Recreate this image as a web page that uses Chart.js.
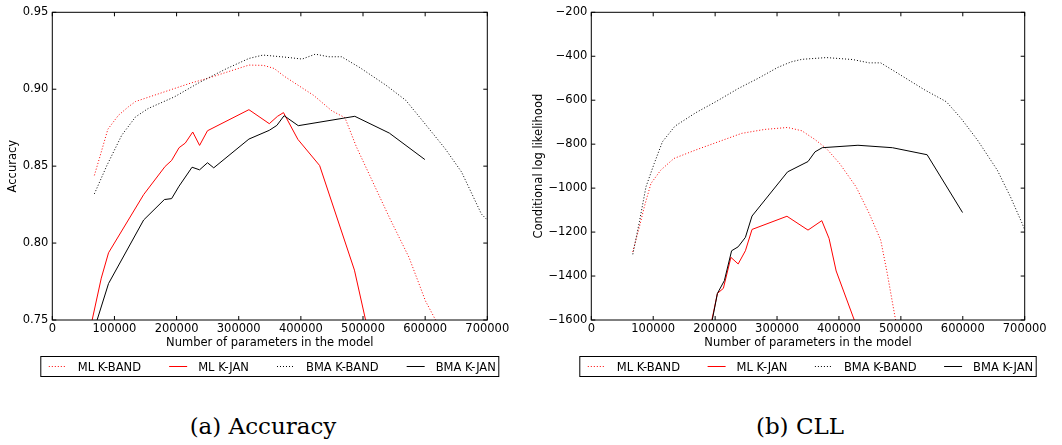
<!DOCTYPE html>
<html>
<head>
<meta charset="utf-8">
<script src="https://cdn.jsdelivr.net/npm/chart.js@4.4.0/dist/chart.umd.min.js"></script>
<style>
    html, body { margin: 0; padding: 0; background: #fff; }
    body { width: 1062px; height: 445px; position: relative; overflow: hidden; }
    .panel { position: absolute; top: 0; }
    .panel canvas { display: block; }
    .caption {
        position: absolute; top: 415px;
        font-family: "DejaVu Serif", serif; font-size: 23px; line-height: 23px;
        text-align: center; color: #000; white-space: nowrap;
    }
</style>
</head>
<body>
<div class="panel" style="left:0"><canvas id="accChart" width="530" height="385"></canvas></div>
<div class="panel" style="left:530px"><canvas id="cllChart" width="532" height="385"></canvas></div>
<div class="caption" style="left:0;width:526px">(a) Accuracy</div>
<div class="caption" style="left:538px;width:524px">(b) CLL</div>

<script>
// --- Datos ---
const seriesNames = ['ML K-BAND', 'ML K-JAN', 'BMA K-BAND', 'BMA K-JAN'];

const xTicks = [0, 100000, 200000, 300000, 400000, 500000, 600000, 700000];
const accTicks = [0.75, 0.80, 0.85, 0.90, 0.95];
const cllTicks = [-1600, -1400, -1200, -1000, -800, -600, -400, -200];

// (a) Accuracy
const accMlBandX = [67700, 77200, 89400, 106300, 122200, 133900, 185700, 222800, 249200, 316400, 340000, 357000, 373000, 420600, 449700, 470900, 489400, 542300, 574000, 600500, 622000];
const accMlBandY = [0.844, 0.857, 0.874, 0.883, 0.8885, 0.892, 0.899, 0.904, 0.907, 0.9157, 0.9155, 0.9135, 0.9085, 0.896, 0.886, 0.8815, 0.8625, 0.8167, 0.7907, 0.7624, 0.746];

const accMlJanX = [62500, 78800, 90500, 147000, 181500, 192000, 204000, 214000, 226000, 237000, 249700, 316400, 349200, 362400, 372000, 395200, 430200, 486200, 508000];
const accMlJanY = [0.747, 0.7772, 0.7937, 0.8315, 0.8498, 0.8537, 0.862, 0.865, 0.8722, 0.8635, 0.873, 0.8867, 0.8776, 0.8824, 0.8848, 0.8674, 0.8504, 0.7824, 0.743];

const accBmaBandX = [67700, 87800, 111600, 133900, 154000, 196300, 238600, 281000, 316400, 339000, 378300, 402100, 423300, 444400, 465600, 494700, 537000, 568800, 595200, 632300, 658700, 690500, 700000];
const accBmaBandY = [0.832, 0.8504, 0.870, 0.882, 0.8874, 0.895, 0.9048, 0.9135, 0.920, 0.9222, 0.9207, 0.9196, 0.9228, 0.9211, 0.9211, 0.9141, 0.9026, 0.8928, 0.8798, 0.8613, 0.8461, 0.8189, 0.815];

const accBmaJanX = [69000, 90500, 147000, 180400, 192000, 204000, 224900, 237000, 249700, 259800, 316400, 349200, 361400, 373000, 395800, 486800, 542300, 599500];
const accBmaJanY = [0.746, 0.7737, 0.815, 0.8283, 0.8289, 0.837, 0.8493, 0.8476, 0.8522, 0.8489, 0.8676, 0.8733, 0.8765, 0.8828, 0.8763, 0.8824, 0.8715, 0.8543];

// (b) CLL
const cllMlBandX = [67000, 77700, 85600, 96300, 112200, 133500, 168100, 205300, 242600, 279800, 317000, 340000, 361300, 379800, 401100, 427600, 448800, 467400, 478000, 493000];
const cllMlBandY = [-1290, -1176, -1085, -979, -918, -865, -827, -789, -751, -733, -724, -739, -779, -820, -888, -994, -1115, -1236, -1388, -1625];

const cllMlJanX = [192500, 203700, 213300, 225500, 237200, 248900, 259600, 316000, 350000, 372300, 384000, 395500, 428000];
const cllMlJanY = [-1630, -1479, -1456, -1315, -1345, -1285, -1188, -1128, -1191, -1148, -1229, -1377, -1625];

const cllBmaBandX = [67000, 77700, 88300, 101600, 114900, 135100, 168100, 205300, 237200, 269100, 301000, 322300, 340000, 379800, 422300, 448800, 467400, 491200, 539000, 573500, 597300, 623900, 655700, 676900, 695500, 700000];
const cllBmaBandY = [-1301, -1153, -994, -888, -789, -718, -658, -600, -547, -501, -451, -426, -414, -406, -415, -430, -430, -471, -554, -607, -683, -782, -918, -1039, -1158, -1190];

const cllBmaJanX = [193000, 203700, 214900, 226600, 237200, 248900, 259600, 317000, 350000, 361300, 373000, 430700, 486300, 542400, 599600];
const cllBmaJanY = [-1635, -1479, -1421, -1285, -1267, -1224, -1127, -926, -879, -835, -816, -805, -816, -848, -1111];

// --- Estilos ---
const seriesStyle = [
    { color: '#ff0000', dash: [1, 2] },
    { color: '#ff0000', dash: [] },
    { color: '#000000', dash: [1, 2] },
    { color: '#000000', dash: [] }
];
const baseFont = { family: 'DejaVu Sans', size: 11.5 };

function makeDatasets(xs, ys) {
    return seriesNames.map(function (name, i) {
        return {
            label: name,
            data: xs[i].map(function (x, j) { return { x: x, y: ys[i][j] }; }),
            borderColor: seriesStyle[i].color,
            borderDash: seriesStyle[i].dash,
            borderWidth: 1,
            pointRadius: 0,
            tension: 0,
            fill: false,
            order: seriesNames.length - i
        };
    });
}

// marco completo y marcas de graduación hacia dentro
const frameTicks = {
    id: 'frameTicks',
    afterDatasetsDraw(chart, args, opts) {
        const { ctx, chartArea: a, scales } = chart;
        const len = opts.len || 4;
        ctx.save();
        ctx.strokeStyle = '#000';
        ctx.lineWidth = 1;
        ctx.setLineDash([]);
        ctx.strokeRect(a.left, a.top, a.right - a.left, a.bottom - a.top);
        ctx.beginPath();
        scales.x.ticks.forEach(function (t) {
            const px = scales.x.getPixelForValue(t.value);
            ctx.moveTo(px, a.bottom); ctx.lineTo(px, a.bottom - len);
            ctx.moveTo(px, a.top); ctx.lineTo(px, a.top + len);
        });
        scales.y.ticks.forEach(function (t) {
            const py = scales.y.getPixelForValue(t.value);
            ctx.moveTo(a.left, py); ctx.lineTo(a.left + len, py);
            ctx.moveTo(a.right, py); ctx.lineTo(a.right - len, py);
        });
        ctx.stroke();
        ctx.restore();
    }
};

// leyenda en caja bajo el eje x
const boxLegend = {
    id: 'boxLegend',
    afterDraw(chart, args, opts) {
        const { ctx, chartArea: a } = chart;
        const left = a.left - opts.overhang, right = a.right + opts.overhang;
        const items = chart.data.datasets;
        ctx.save();
        ctx.font = baseFont.size + 'px "' + baseFont.family + '"';
        const widths = items.map(function (d) { return ctx.measureText(d.label).width; });
        const used = items.length * (opts.sample + opts.textGap) + widths.reduce(function (s, w) { return s + w; }, 0);
        const gap = (right - left - opts.padLeft - opts.padRight - used) / (items.length - 1);
        const midY = opts.top + opts.height / 2;
        let x = left + opts.padLeft;
        items.forEach(function (d, i) {
            ctx.beginPath();
            ctx.strokeStyle = d.borderColor;
            ctx.lineWidth = d.borderWidth;
            ctx.setLineDash(d.borderDash || []);
            ctx.moveTo(x, midY);
            ctx.lineTo(x + opts.sample, midY);
            ctx.stroke();
            ctx.setLineDash([]);
            ctx.fillStyle = '#000';
            ctx.textBaseline = 'alphabetic';
            ctx.textAlign = 'left';
            ctx.fillText(d.label, x + opts.sample + opts.textGap, opts.top + opts.baseline);
            x += opts.sample + opts.textGap + widths[i] + gap;
        });
        ctx.strokeStyle = '#000';
        ctx.lineWidth = 1;
        ctx.strokeRect(left, opts.top, right - left, opts.height);
        ctx.restore();
    }
};

function makeOptions(cfg) {
    return {
        responsive: false,
        animation: false,
        layout: { padding: { left: 0, top: 12.3, right: cfg.padRight, bottom: 35 } },
        plugins: {
            legend: { display: false },
            tooltip: { enabled: false },
            frameTicks: { len: 4 },
            boxLegend: { overhang: 11.5, top: 356.5, height: 20, baseline: 14.5, padLeft: 8, padRight: 3, sample: 18, textGap: 11 }
        },
        scales: {
            x: {
                type: 'linear',
                min: 0,
                max: 700000,
                grid: { display: false, drawTicks: false },
                border: { display: false },
                afterBuildTicks: function (s) { s.ticks = xTicks.map(function (v) { return { value: v }; }); },
                afterFit: function (s) { s.height = 30; },
                ticks: { padding: 2.5, maxRotation: 0, autoSkip: false, color: '#000', font: baseFont,
                         callback: function (v) { return String(v); } },
                title: { display: true, text: 'Number of parameters in the model', color: '#000', font: baseFont,
                         padding: { top: 0, bottom: 0 } }
            },
            y: {
                type: 'linear',
                min: cfg.yMin,
                max: cfg.yMax,
                grid: { display: false, drawTicks: false },
                border: { display: false },
                afterBuildTicks: function (s) { s.ticks = cfg.yTicks.map(function (v) { return { value: v }; }); },
                afterFit: function (s) { s.width = cfg.axisWidth; },
                ticks: { padding: 4, autoSkip: false, color: '#000', font: baseFont, callback: cfg.yFormat },
                title: { display: true, text: cfg.yTitle, color: '#000', font: baseFont,
                         padding: { top: cfg.titlePad, bottom: 0 } }
            }
        }
    };
}

document.addEventListener('DOMContentLoaded', function () {

    // --- (a) Accuracy ---
    new Chart(document.getElementById('accChart'), {
        type: 'line',
        data: { datasets: makeDatasets([accMlBandX, accMlJanX, accBmaBandX, accBmaJanX],
                                       [accMlBandY, accMlJanY, accBmaBandY, accBmaJanY]) },
        options: makeOptions({
            yMin: 0.75, yMax: 0.95, yTicks: accTicks, yTitle: 'Accuracy',
            yFormat: function (v) { return v.toFixed(2); },
            axisWidth: 52.3, padRight: 42.7, titlePad: 6.4
        }),
        plugins: [frameTicks, boxLegend]
    });

    // --- (b) CLL ---
    new Chart(document.getElementById('cllChart'), {
        type: 'line',
        data: { datasets: makeDatasets([cllMlBandX, cllMlJanX, cllBmaBandX, cllBmaJanX],
                                       [cllMlBandY, cllMlJanY, cllBmaBandY, cllBmaJanY]) },
        options: makeOptions({
            yMin: -1600, yMax: -200, yTicks: cllTicks, yTitle: 'Conditional log likelihood',
            yFormat: function (v) { return v < 0 ? '\u2212' + Math.abs(v) : String(v); },
            axisWidth: 61.3, padRight: 37.3, titlePad: 1.8
        }),
        plugins: [frameTicks, boxLegend]
    });

});
</script>
</body>
</html>
